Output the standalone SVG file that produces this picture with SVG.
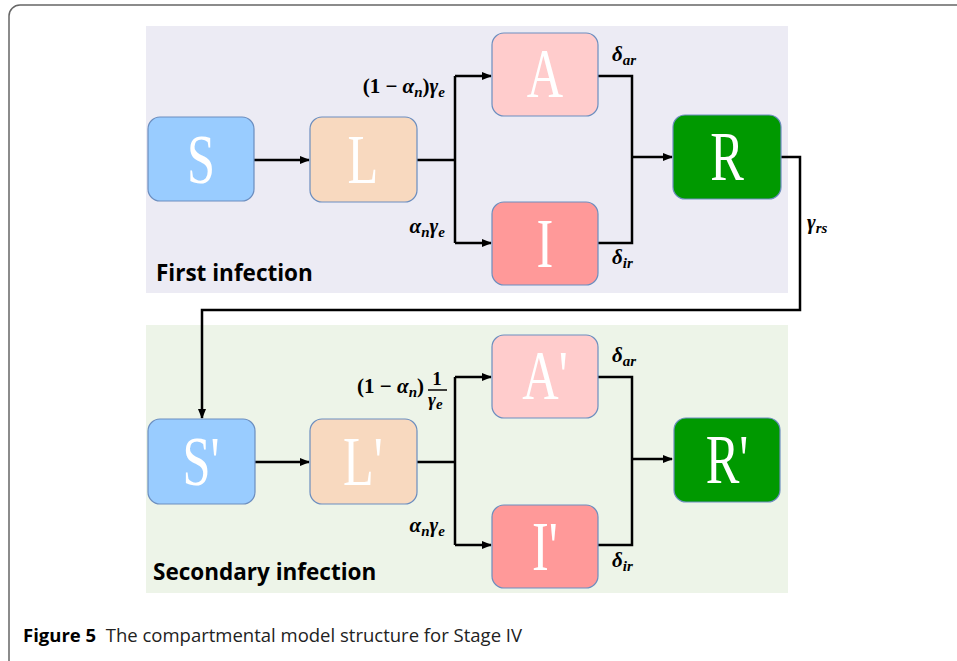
<svg xmlns="http://www.w3.org/2000/svg" width="957" height="661" viewBox="0 0 957 661">
<style>
.box{stroke:#6C8EBF;stroke-width:1.2}
.let{font-family:"Liberation Serif","DejaVu Serif",serif;font-size:70px;fill:#fff;text-anchor:middle}
.con{fill:none;stroke:#000;stroke-width:2.5}
.math{font-family:"Liberation Serif","DejaVu Serif",serif;font-size:21px;font-weight:bold;font-style:italic;fill:#000}
.up{font-style:normal}
.sub{font-size:15px}
.frac{font-size:19px}
.title{font-family:"Open Sans","Liberation Sans",sans-serif;font-size:22.5px;font-weight:bold;fill:#000}
.cap{font-family:"Open Sans","Liberation Sans",sans-serif;font-size:18.5px;fill:#222}
</style>
<defs>
<marker id="ah" markerWidth="10" markerHeight="8" refX="9" refY="4" orient="auto" markerUnits="userSpaceOnUse">
<path d="M0,0 L10,4 L0,8 z" fill="#000"/>
</marker>
</defs>
<rect width="957" height="661" fill="#fff"/>
<rect x="9" y="5" width="970" height="670" rx="11" fill="none" stroke="#666" stroke-width="1.5"/>
<rect id="panel1" x="146" y="26" width="642" height="267" fill="#ECEBF4"/>
<rect id="panel2" x="146" y="325" width="642" height="268" fill="#EDF4E8"/>
<g id="connectors">
<path class="con" d="M254,160 H309" marker-end="url(#ah)"/>
<path class="con" d="M417,160 H455"/>
<path class="con" d="M455,76 V243"/>
<path class="con" d="M455,76 H491" marker-end="url(#ah)"/>
<path class="con" d="M455,243 H491" marker-end="url(#ah)"/>
<path class="con" d="M598,76 H632 V243 H598"/>
<path class="con" d="M632,157 H672" marker-end="url(#ah)"/>
<path class="con" d="M781,157 H800 V310 H202 V418" marker-end="url(#ah)"/>
<path class="con" d="M255,462 H309" marker-end="url(#ah)"/>
<path class="con" d="M417,462 H455"/>
<path class="con" d="M455,377 V545"/>
<path class="con" d="M455,377 H491" marker-end="url(#ah)"/>
<path class="con" d="M455,545 H491" marker-end="url(#ah)"/>
<path class="con" d="M598,377 H632 V545 H598"/>
<path class="con" d="M632,459 H672" marker-end="url(#ah)"/>
</g>
<g id="S"><rect class="box" x="148" y="117" width="106" height="84" rx="12" fill="#99CCFF"/><text class="let" transform="translate(201,183) scale(0.72,1)">S</text></g>
<g id="L"><rect class="box" x="310" y="117" width="107" height="85" rx="12" fill="#F8D9BF"/><text class="let" transform="translate(363,183) scale(0.72,1)">L</text></g>
<g id="A"><rect class="box" x="492" y="33" width="106" height="83" rx="12" fill="#FFCCCC"/><text class="let" transform="translate(545,97) scale(0.72,1)">A</text></g>
<g id="I"><rect class="box" x="492" y="202" width="106" height="83" rx="12" fill="#FF9999"/><text class="let" transform="translate(545,267) scale(0.72,1)">I</text></g>
<g id="R"><rect class="box" x="673" y="115" width="108" height="84" rx="12" fill="#009900"/><text class="let" transform="translate(727,180) scale(0.72,1)">R</text></g>
<g id="S2"><rect class="box" x="148" y="419" width="107" height="85" rx="12" fill="#99CCFF"/><text class="let" transform="translate(201,485) scale(0.72,1)">S'</text></g>
<g id="L2"><rect class="box" x="310" y="419" width="107" height="85" rx="12" fill="#F8D9BF"/><text class="let" transform="translate(363,485) scale(0.72,1)">L'</text></g>
<g id="A2"><rect class="box" x="492" y="335" width="106" height="83" rx="12" fill="#FFCCCC"/><text class="let" transform="translate(545,399) scale(0.72,1)">A'</text></g>
<g id="I2"><rect class="box" x="492" y="505" width="106" height="83" rx="12" fill="#FF9999"/><text class="let" transform="translate(545,570) scale(0.72,1)">I'</text></g>
<g id="R2"><rect class="box" x="674" y="418" width="106" height="84" rx="12" fill="#009900"/><text class="let" transform="translate(727,483) scale(0.72,1)">R'</text></g>
<g id="labels">
<text class="math" x="445" y="93" text-anchor="end"><tspan class="up">(1 − </tspan>α<tspan class="sub" dy="4">n</tspan><tspan class="up" dy="-4">)</tspan>γ<tspan class="sub" dy="4">e</tspan></text>
<text class="math" x="445" y="233" text-anchor="end">α<tspan class="sub" dy="4">n</tspan><tspan dy="-4">γ</tspan><tspan class="sub" dy="4">e</tspan></text>
<text class="math" x="612" y="61">δ<tspan class="sub" dy="4">ar</tspan></text>
<text class="math" x="612" y="264">δ<tspan class="sub" dy="4">ir</tspan></text>
<text class="math" x="807" y="229">γ<tspan class="sub" dy="4">rs</tspan></text>
<text class="math" x="424" y="393" text-anchor="end"><tspan class="up">(1 − </tspan>α<tspan class="sub" dy="4">n</tspan><tspan class="up" dy="-4">)</tspan></text>
<text class="math up frac" x="437" y="385" text-anchor="middle">1</text>
<line x1="428" y1="390" x2="447" y2="390" stroke="#000" stroke-width="1.5"/>
<text class="math frac" x="428" y="406">γ<tspan class="sub" dy="3">e</tspan></text>
<text class="math" x="445" y="532" text-anchor="end">α<tspan class="sub" dy="4">n</tspan><tspan dy="-4">γ</tspan><tspan class="sub" dy="4">e</tspan></text>
<text class="math" x="612" y="362">δ<tspan class="sub" dy="4">ar</tspan></text>
<text class="math" x="612" y="567">δ<tspan class="sub" dy="4">ir</tspan></text>
<text class="title" x="156" y="281">First infection</text>
<text class="title" x="153" y="580">Secondary infection</text>
<text class="cap" x="23" y="642" xml:space="preserve"><tspan font-weight="bold" fill="#000">Figure 5</tspan>  The compartmental model structure for Stage IV</text>
</g>
</svg>
